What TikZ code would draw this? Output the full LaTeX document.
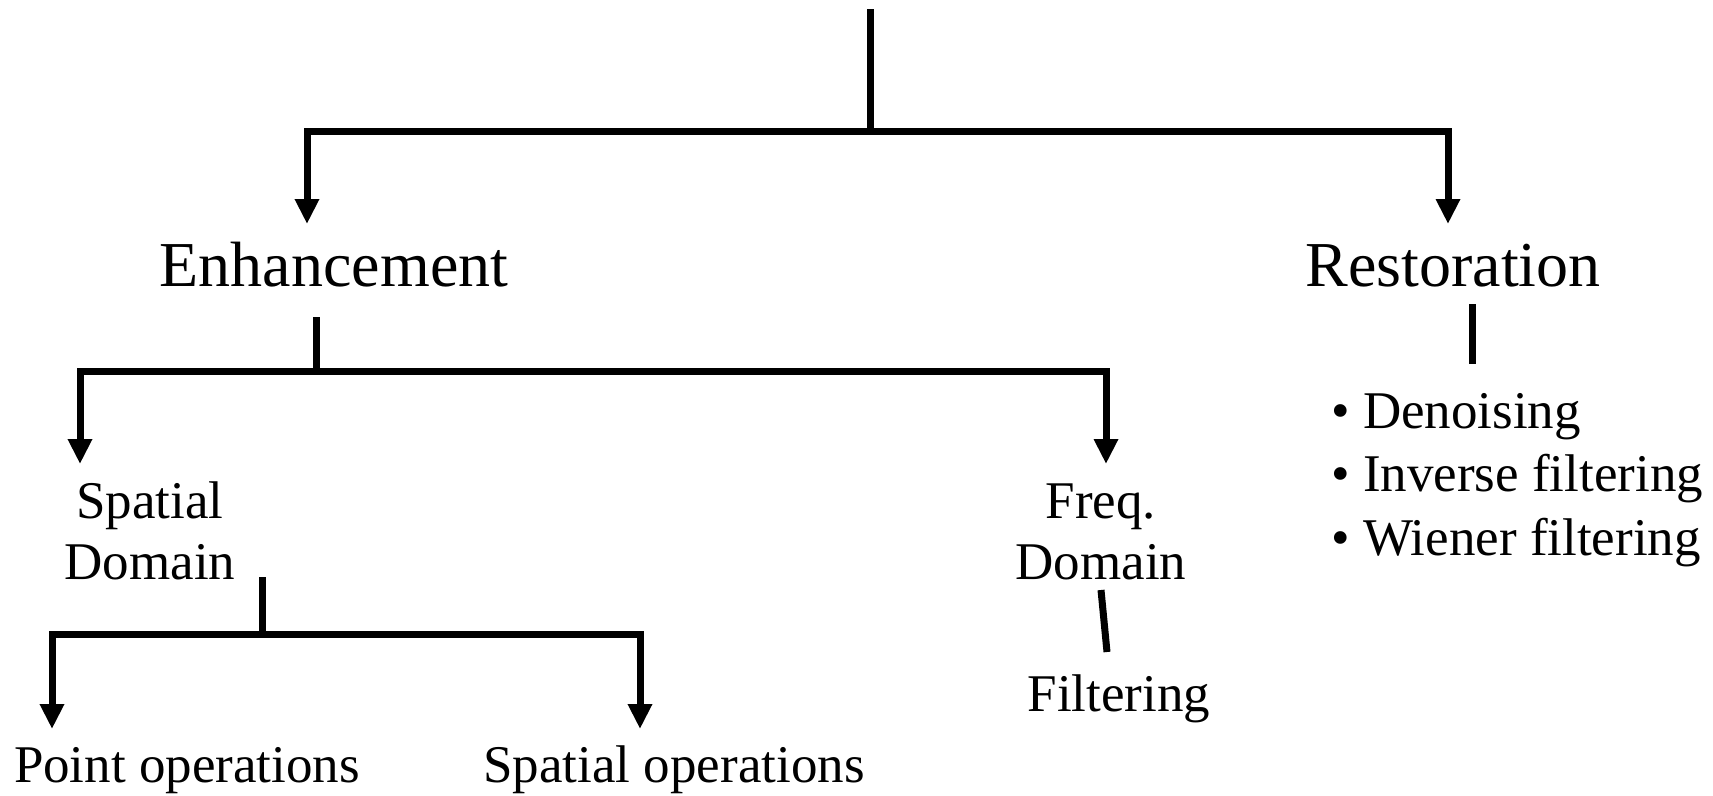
\documentclass[tikz,border=0pt]{standalone}
\usepackage{fontspec}
\setmainfont{Liberation Serif}
\usetikzlibrary{arrows.meta}
\begin{document}
\begin{tikzpicture}[x=1pt,y=-1pt,
  conn/.style={line width=7pt, line join=miter},
  arr/.style={conn, -{Triangle[width=23pt,length=25pt]}},
  big/.style={font=\fontsize{64}{77}\selectfont, inner sep=0pt, anchor=base},
  small/.style={font=\fontsize{53}{61}\selectfont, inner sep=0pt, anchor=base, align=center},
  list/.style={font=\fontsize{53}{63.5}\selectfont, inner sep=0pt, anchor=base west, align=left},
]
\useasboundingbox (0,0) rectangle (1713,795);
% level 1
\coordinate (top) at (870,9);
\coordinate (j1) at (870,131);
\coordinate (tEnh) at (307,224);
\coordinate (tRes) at (1448,224);
\node[big] (enh) at (334,286) {Enhancement};
\node[big] (res) at (1453,286) {Restoration};
\draw[conn] (top) -- (j1);
\draw[arr] (j1) -| (tEnh);
\draw[arr] (j1) -| (tRes);
% enhancement branch
\coordinate (eS) at (316,317);
\coordinate (j2) at (316,371);
\coordinate (tSp) at (80,464);
\coordinate (tFr) at (1106,464);
\node[small] (spd) at (150,579) {Spatial\\Domain};
\node[small] (frd) at (1101,579) {Freq.\\Domain};
\draw[conn] (eS) -- (j2);
\draw[arr] (j2) -| (tSp);
\draw[arr] (j2) -| (tFr);
% spatial domain branch
\coordinate (sS) at (262,577);
\coordinate (j3) at (262,634);
\coordinate (tPt) at (52,729);
\coordinate (tSo) at (640,729);
\node[small] (pto) at (187,782) {Point operations};
\node[small] (spo) at (674,782) {Spatial operations};
\draw[conn] (sS) -- (j3);
\draw[arr] (j3) -| (tPt);
\draw[arr] (j3) -| (tSo);
% freq domain branch
\coordinate (fS) at (1101,590);
\coordinate (fE) at (1107,652);
\node[small] (fil) at (1119,711) {Filtering};
\draw[conn] (fS) -- (fE);
% restoration branch
\coordinate (rS) at (1472,304);
\coordinate (rE) at (1472,364);
\node[list] (rlist) at (1331,555) {\textbullet\ Denoising\\\textbullet\ Inverse filtering\\\textbullet\ Wiener filtering};
\draw[conn] (rS) -- (rE);
\end{tikzpicture}
\end{document}
